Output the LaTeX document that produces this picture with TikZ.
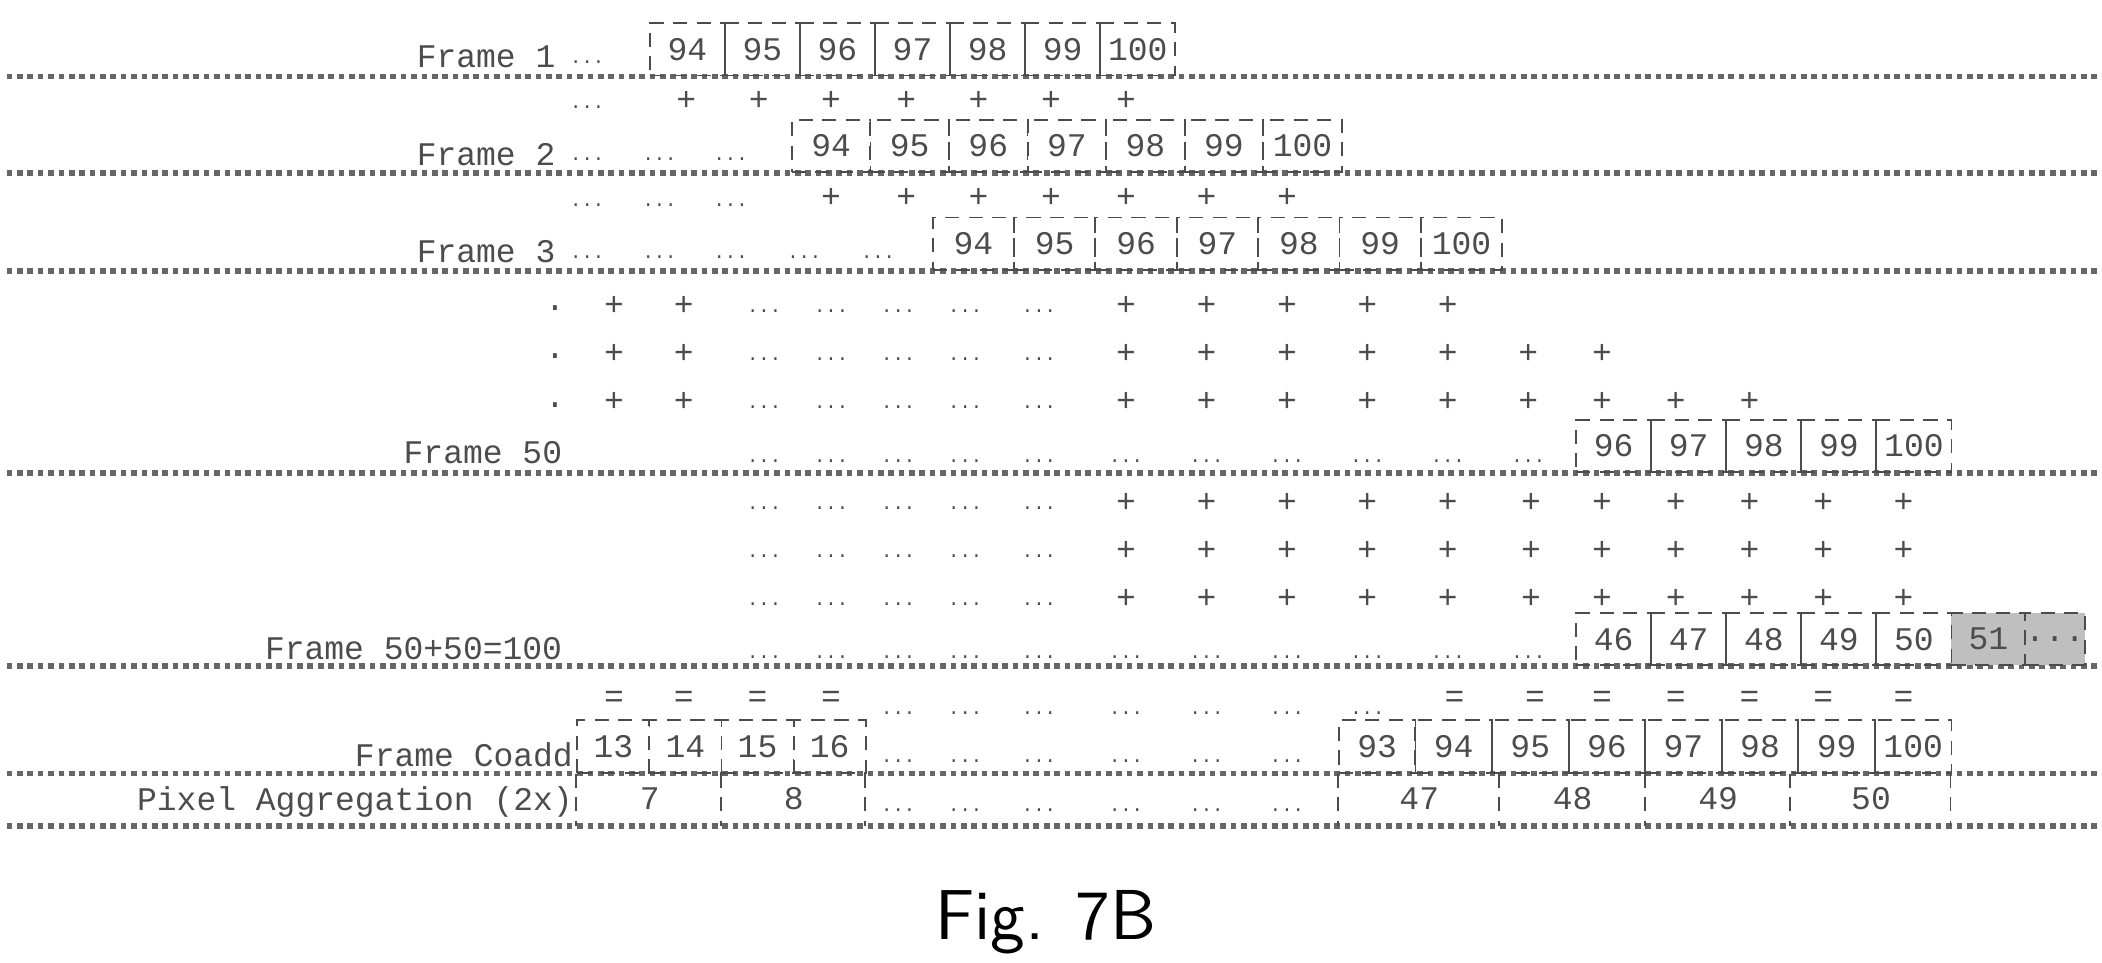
\documentclass[tikz,border=0pt]{standalone}
\usepackage{fontspec}
\setmonofont{Liberation Mono}
\tikzset{
  lbl/.style={font=\ttfamily\fontsize{7}{8}\selectfont, text=black!70, inner sep=0pt},
  dts/.style={lbl, font=\ttfamily\fontsize{4}{5}\selectfont},
  cell/.style={draw=black!70, densely dashed, lbl, minimum height=0.39cm, anchor=south west},
  sep/.style={draw=black!60, line width=1.2pt, densely dotted},
  shade/.style={cell, fill=black!25},
}
\begin{document}
\begin{tikzpicture}[x=0.01cm,y=-0.01cm]
\useasboundingbox (0,0) rectangle (1568,718);

% separators
\foreach \y/\n in {57/s1,129/s2,202/s3,353/s4,497/s5,577/s6,616/s7}{
  \coordinate (\n a) at (5,\y); \coordinate (\n b) at (1568,\y);
  \draw[sep] (\n a) -- (\n b);}

% frame 1
\node[lbl, anchor=east] (f1) at (415,42) {Frame 1};
\node[dts] (f1d) at (438,46) {...};
\foreach \v [count=\i from 0] in {94,95,96,97,98,99,100}
  \node[cell, minimum width=0.56cm] (f1c\i) at (484+56*\i,57) {\v};
\node[dts] (r1d) at (438,80) {...};
\foreach \x [count=\i] in {512,566,620,676,730,784,840}
  \node[lbl] (r1p\i) at (\x,75) {+};

% frame 2
\node[lbl, anchor=east] (f2) at (415,115) {Frame 2};
\foreach \x [count=\i] in {438,492,545} \node[dts] (f2d\i) at (\x,119) {...};
\foreach \v [count=\i from 0] in {94,95,96,97,98,99,100}
  \node[cell, minimum width=0.586cm] (f2c\i) at (590+58.6*\i,129) {\v};
\foreach \x [count=\i] in {438,492,545} \node[dts] (r2d\i) at (\x,153) {...};
\foreach \x [count=\i] in {620,676,730,784,840,900,960}
  \node[lbl] (r2p\i) at (\x,148) {+};

% frame 3
\node[lbl, anchor=east] (f3) at (415,188) {Frame 3};
\foreach \x [count=\i] in {438,492,545,600,655} \node[dts] (f3d\i) at (\x,192) {...};
\foreach \v [count=\i from 0] in {94,95,96,97,98,99,100}
  \node[cell, minimum width=0.607cm] (f3c\i) at (695+60.7*\i,202) {\v};

% intermediate rows
\foreach \y/\lst [count=\r] in {228/{840,900,960,1020,1080},
    264/{840,900,960,1020,1080,1140,1195},
    300/{840,900,960,1020,1080,1140,1195,1250,1305}}{
  \node[lbl] (m\r o) at (414,\y+2) {.};
  \foreach \x [count=\i] in {458,510} \node[lbl] (m\r a\i) at (\x,\y) {+};
  \foreach \x [count=\i] in {570,620,670,720,775} \node[dts] (m\r d\i) at (\x,\y+4) {...};
  \foreach \x [count=\i] in \lst \node[lbl] (m\r p\i) at (\x,\y) {+};
}

% frame 50
\node[lbl, anchor=east] (f50) at (420,338) {Frame 50};
\foreach \x [count=\i] in {570,620,670,720,775,840,900,960,1020,1080,1140}
  \node[dts] (f50d\i) at (\x,344) {...};
\foreach \v [count=\i from 0] in {96,97,98,99,100}
  \node[cell, minimum width=0.56cm] (f50c\i) at (1175+56*\i,353) {\v};

\foreach \y [count=\r] in {375,411,447}{
  \foreach \x [count=\i] in {570,620,670,720,775} \node[dts] (n\r d\i) at (\x,\y+4) {...};
  \foreach \x [count=\i] in {840,900,960,1020,1080,1142,1195,1250,1305,1360,1420}
    \node[lbl] (n\r p\i) at (\x,\y) {+};
}

% frame 100
\node[lbl, anchor=east] (f100) at (420,484) {Frame 50+50=100};
\foreach \x [count=\i] in {570,620,670,720,775,840,900,960,1020,1080,1140}
  \node[dts] (f100d\i) at (\x,490) {...};
\foreach \v [count=\i from 0] in {46,47,48,49,50}
  \node[cell, minimum width=0.56cm] (f100c\i) at (1175+56*\i,497) {\v};
\node[shade, minimum width=0.55cm] (f100s1) at (1455,497) {51};
\node[shade, minimum width=0.40cm] (f100s2) at (1510,497) {...};

% equals row
\foreach \x [count=\i] in {458,510,565,620,1085,1145,1195,1250,1305,1360,1420}
  \node[lbl] (eq\i) at (\x,522) {=};
\foreach \x [count=\i] in {670,720,775,840,900,960,1020}
  \node[dts] (eqd\i) at (\x,532) {...};

% frame coadd
\node[lbl, anchor=east] (fc) at (428,563) {Frame Coadd};
\foreach \v [count=\i from 0] in {13,14,15,16}
  \node[cell, minimum width=0.5375cm] (fcl\i) at (430+53.75*\i,577) {\v};
\foreach \x [count=\i] in {670,720,775,840,900,960}
  \node[dts] (fcd\i) at (\x,568) {...};
\foreach \v [count=\i from 0] in {93,94,95,96,97,98,99,100}
  \node[cell, minimum width=0.57125cm] (fcr\i) at (998+57.125*\i,577) {\v};

% pixel aggregation
\node[lbl, anchor=east] (pa) at (428,598) {Pixel Aggregation (2x)};
\foreach \a/\b/\v [count=\i] in {430/538/7,538/645/8,998/1118/47,1118/1227/48,1227/1335/49,1335/1455/50}
  \node[cell, minimum width=(\b-\a)*0.01cm, draw=none] (pac\i) at (\a,616) {\v};
\foreach \x [count=\i] in {430,538,645,998,1118,1227,1335,1455}{
  \coordinate (pv\i a) at (\x,577); \coordinate (pv\i b) at (\x,616);
  \draw[draw=black!70, densely dashed] (pv\i a) -- (pv\i b);}
\foreach \x [count=\i] in {670,720,775,840,900,960}
  \node[dts] (pad\i) at (\x,604) {...};

\node[font=\sffamily\fontsize{15}{18}\selectfont] (fig) at (780,688) {Fig. 7B};
\end{tikzpicture}
\end{document}
